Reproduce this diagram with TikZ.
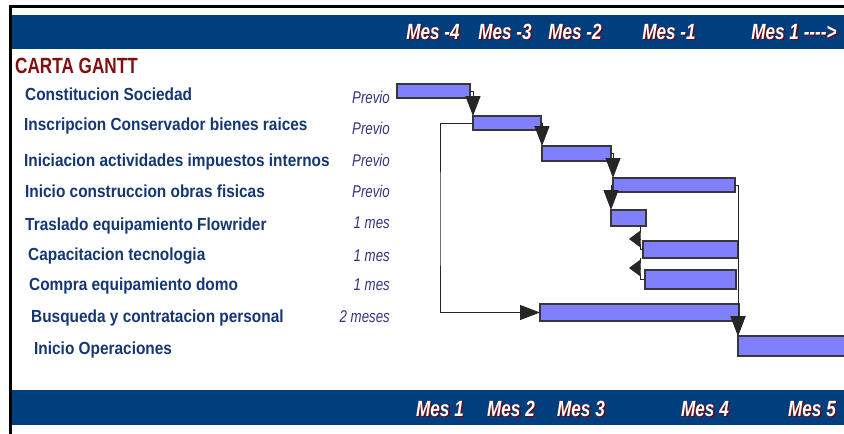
\documentclass[tikz,border=0pt]{standalone}
\usepackage{fontspec}
\setmainfont{Liberation Sans}
\newfontfamily\narrowfont[FakeStretch=0.78]{Liberation Sans}
\newfontfamily\taskfont[FakeStretch=0.88]{Liberation Sans}
\usetikzlibrary{positioning}
\usetikzlibrary{arrows.meta}

\definecolor{band}{RGB}{0,62,126}
\definecolor{barfill}{RGB}{128,128,255}
\definecolor{bardraw}{RGB}{55,55,55}
\definecolor{taskblue}{RGB}{20,55,115}
\definecolor{durblue}{RGB}{52,52,128}
\definecolor{titlered}{RGB}{128,16,16}
\definecolor{shadowred}{RGB}{120,0,0}

\begin{document}
\begin{tikzpicture}[x=1pt,y=-1pt,>={Triangle[length=20pt,width=15pt]},
    bar/.style={draw=bardraw,fill=barfill,line width=1.1pt,inner sep=0pt,
                outer sep=0pt,anchor=north west},
    link/.style={draw=black!85,line width=1pt},
    task/.style={anchor=base west,inner sep=0pt,text=taskblue,
                 font=\taskfont\fontsize{17.5}{18}\selectfont\bfseries},
    dur/.style={anchor=base east,inner sep=0pt,text=durblue,
                font=\narrowfont\fontsize{17}{17}\selectfont\itshape},
    mes/.style={anchor=base,inner sep=0pt,text=white,
                font=\narrowfont\fontsize{22}{22}\selectfont\bfseries\itshape},
    mes shadow/.style={mes,text=shadowred}]

  \useasboundingbox[fill=white] (0,0) rectangle (844,434);

  % frame and bands
  \fill (9,5) rectangle (844,7.5);
  \fill (9,5) rectangle (12,434);
  \fill[band] (12,14.5) rectangle (844,49);
  \fill[band] (12,390) rectangle (844,425);

  % months
  \foreach \x/\t [count=\i] in {433/Mes -4,505/Mes -3,575/Mes -2,669/Mes -1,
                               794/Mes 1 -{}-{}-{}->}
    {\node[mes shadow] at (\x+1.3,40.3) {\t};
     \node[mes] (top\i) at (\x,39) {\t};}
  \foreach \x/\t [count=\i] in {440/Mes 1,511/Mes 2,581/Mes 3,705/Mes 4,812/Mes 5}
    {\node[mes shadow] at (\x+1.3,417.3) {\t};
     \node[mes] (bot\i) at (\x,416) {\t};}

  \node[anchor=base west,inner sep=0pt,text=titlered,
        font=\narrowfont\fontsize{22}{22}\selectfont\bfseries] (title) at (15,73) {CARTA GANTT};

  % tasks
  \foreach \x/\y/\t [count=\i] in {25/100/Constitucion Sociedad,
      24/130/Inscripcion Conservador bienes raices,
      24/166/Iniciacion actividades impuestos internos,
      25/197/Inicio construccion obras fisicas,
      25/230/Traslado equipamiento Flowrider,
      28/260/Capacitacion tecnologia,
      29/290/Compra equipamiento domo,
      31/322/Busqueda y contratacion personal,
      34/354/Inicio Operaciones}
    \node[task] (t\i) at (\x,\y) {\t};
  \foreach \y/\t [count=\i] in {103/Previo,134/Previo,166/Previo,197/Previo,
                               228/1 mes,261/1 mes,290/1 mes,322/2 meses}
    \node[dur] (d\i) at (390,\y) {\t};

  % bars
  \node[bar,minimum width=73pt,minimum height=14pt] (b1) at (397,84) {};
  \node[bar,minimum width=68pt,minimum height=14pt] (b2) at (473,116) {};
  \node[bar,minimum width=69pt,minimum height=15pt] (b3) at (542,146) {};
  \node[bar,minimum width=122pt,minimum height=14pt] (b4) at (613,178) {};
  \node[bar,minimum width=35pt,minimum height=16pt] (b5) at (611,210) {};
  \node[bar,minimum width=95pt,minimum height=17pt] (b6) at (643,241) {};
  \node[bar,minimum width=91pt,minimum height=19pt] (b7) at (645,270) {};
  \node[bar,minimum width=199pt,minimum height=17pt] (b8) at (540,304) {};
  \node[bar,minimum width=110pt,minimum height=20pt] (b9) at (738,336) {};

  \coordinate (k) at (440,220);
  \coordinate (q6) at (640,239);
  \coordinate (p6) at (629,239);
  \coordinate (q7) at (640,268);
  \coordinate (p7) at (629,268);

  % links
  \draw[link,->] (b1.east) -| (b2.north west);
  \draw[link,->] (b2.east) -| (b3.north west);
  \draw[link,->] (b3.east) -| (b4.north west);
  \draw[link,->] (b4.west) -| (b5.north west);
  \draw[link,->] (b2.west) -| (k) |- (b8.west);
  \draw[link,->] (b4.east) -| (b9.north west);
  \draw[link,->] (b8.east) -| (b9.north west);
  \draw[link] (b5.south -| q6) -- (q6) |- (b6.west);
  \draw[link,-{Triangle[length=11pt,width=16pt]}] (q6) -- (p6);
  \draw[link] (b6.south -| q7) -- (q7) |- (b7.west);
  \draw[link,-{Triangle[length=11pt,width=16pt]}] (q7) -- (p7);

\end{tikzpicture}
\end{document}
